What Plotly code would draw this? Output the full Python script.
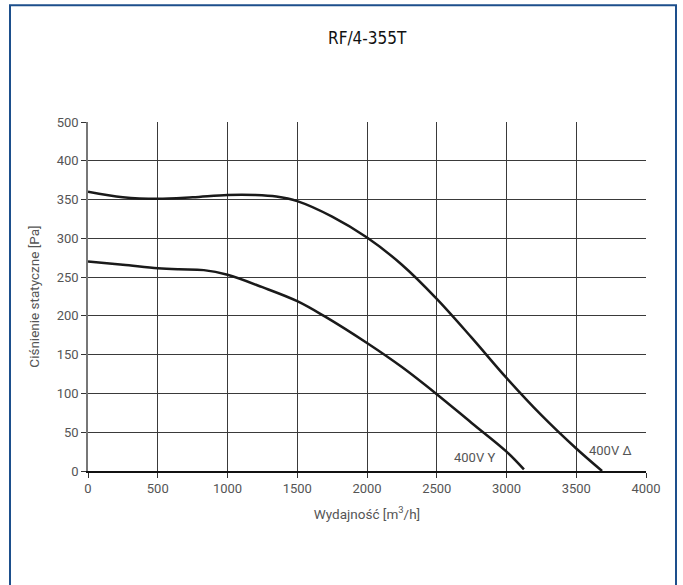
import plotly.graph_objects as go

# Data
flow_delta = [0, 250, 500, 750, 1000, 1200, 1350, 1500, 1750, 2000, 2250, 2500, 2750, 3000, 3250, 3500, 3685]
pres_delta = [360, 353, 351, 353, 356, 356, 354, 348, 328, 301, 266, 222, 172, 120, 72, 29, 0]

flow_y = [0, 250, 500, 650, 830, 1000, 1250, 1500, 1700, 2000, 2250, 2500, 2750, 3000, 3125]
pres_y = [270, 266, 261.5, 260, 259, 253, 237, 219, 199, 165, 134, 99, 62, 25, 2]

x_ticks = [0, 500, 1000, 1500, 2000, 2500, 3000, 3500, 4000]
y_tickvals = [0, 50, 100, 150, 200, 250, 300, 350, 400, 450]
y_ticktext = ["0", "50", "100", "150", "200", "250", "300", "350", "400", "500"]

title_text = "RF/4-355T"
x_title = "Wydajność [m<sup>3</sup>/h]"
y_title = "Ciśnienie statyczne [Pa]"
labels = [("400V Y", 2772, 17), ("400V Δ", 3745, 26)]

font_family = "Roboto, DejaVu Sans, sans-serif"
title_family = "Liberation Sans Narrow, DejaVu Sans Condensed, sans-serif"

fig = go.Figure()
fig.add_trace(go.Scatter(x=flow_delta, y=pres_delta, mode="lines",
                         line=dict(color="#1a1a1a", width=2.5, shape="spline", smoothing=1.0),
                         showlegend=False, hoverinfo="skip"))
fig.add_trace(go.Scatter(x=flow_y, y=pres_y, mode="lines",
                         line=dict(color="#1a1a1a", width=2.5, shape="spline", smoothing=1.0),
                         showlegend=False, hoverinfo="skip"))

for txt, xv, yv in labels:
    fig.add_annotation(x=xv, y=yv, text=txt, showarrow=False,
                       font=dict(family=font_family, size=13, color="#555555"),
                       xanchor="center", yanchor="middle")

fig.add_annotation(xref="paper", yref="paper", x=0.5, y=(471 - 38) / 348.75,
                   text=title_text, showarrow=False,
                   font=dict(family=title_family, size=17, color="#111111"),
                   xanchor="center", yanchor="middle")

# outer frame
fig.add_shape(type="rect", xref="paper", yref="paper",
              x0=(10 - 88) / 558, x1=(676 - 88) / 558,
              y0=(471 - 620) / 348.75, y1=(471 - 5.5) / 348.75,
              line=dict(color="#1d4f8c", width=2), fillcolor="rgba(0,0,0,0)", layer="below")

fig.update_layout(
    width=683, height=585,
    margin=dict(l=88, r=37, t=122, b=114),
    paper_bgcolor="white", plot_bgcolor="white",
    font=dict(family=font_family, size=13, color="#555555"),
    xaxis=dict(range=[0, 4000], tickvals=x_ticks, ticks="outside", ticklen=5,
               tickcolor="#333333", showgrid=True, gridcolor="#3a3a3a", gridwidth=1,
               showline=True, linecolor="#111111", linewidth=1.5, zeroline=False,
               title=dict(text=x_title, standoff=14, font=dict(size=13.5, color="#555555")),
               tickfont=dict(size=13, color="#555555")),
    yaxis=dict(range=[0, 450], tickvals=y_tickvals, ticktext=y_ticktext, ticks="outside",
               ticklen=5, tickcolor="#333333", showgrid=True, gridcolor="#3a3a3a", gridwidth=1,
               showline=True, linecolor="#777777", linewidth=1.5, zeroline=False,
               title=dict(text=y_title, standoff=14, font=dict(size=13.5, color="#555555")),
               tickfont=dict(size=13, color="#555555")),
)

fig.write_html("out.html")
